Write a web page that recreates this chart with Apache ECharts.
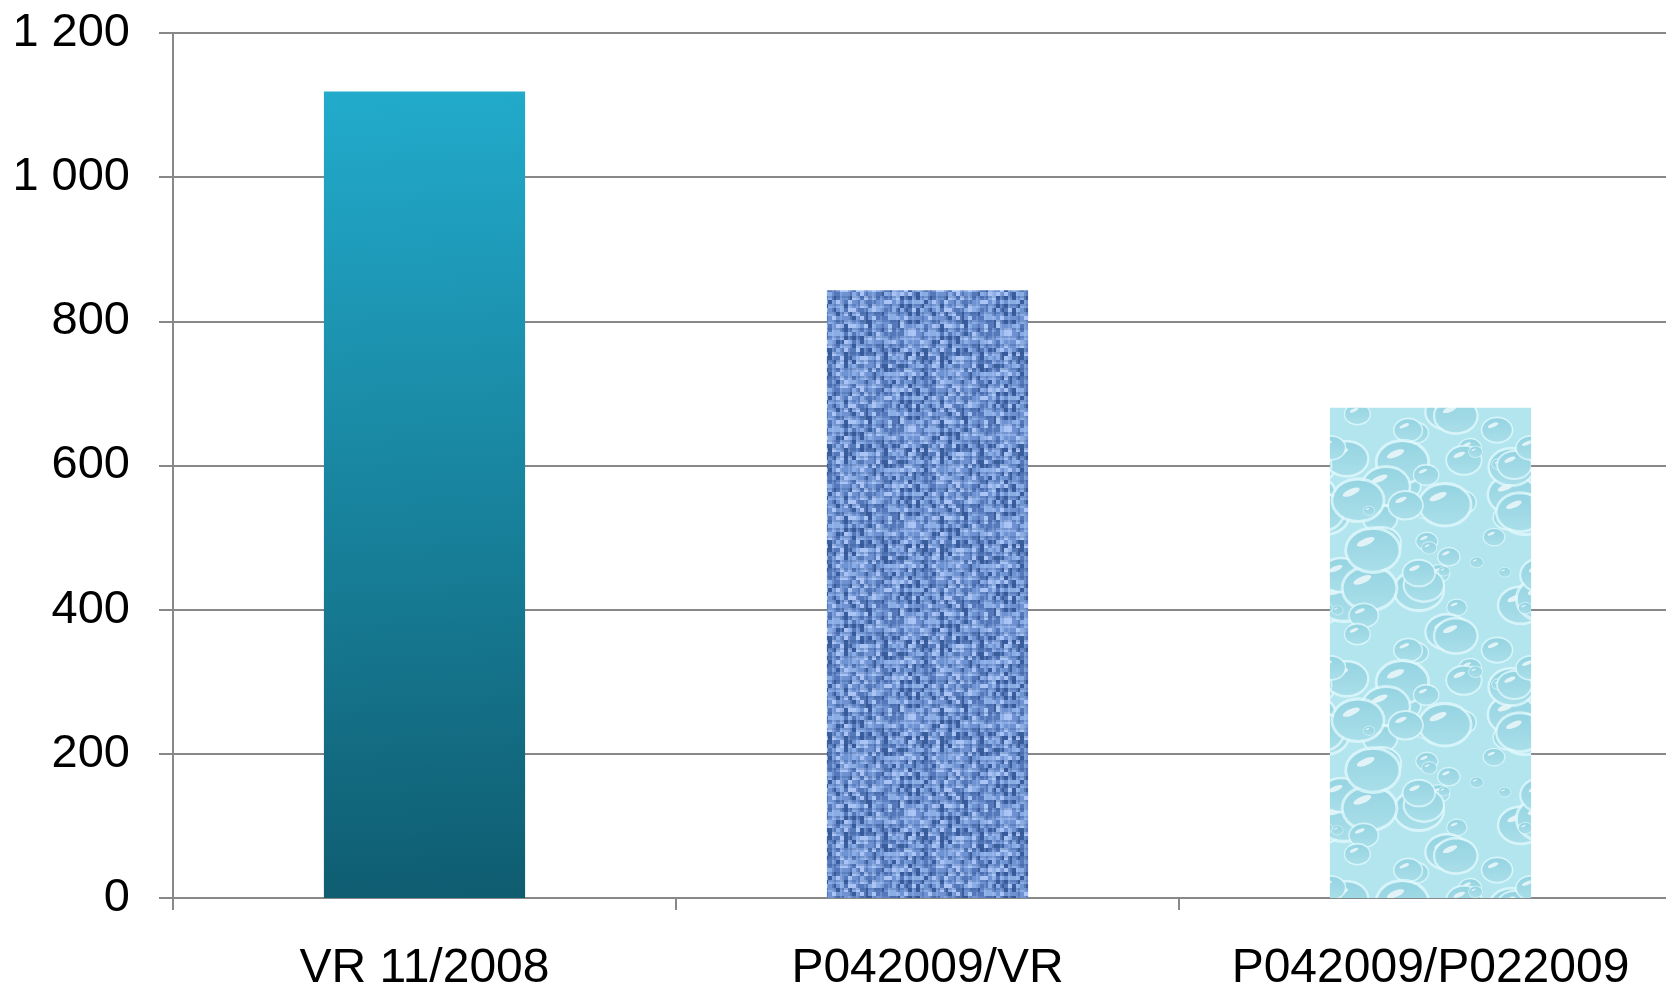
<!DOCTYPE html>
<html>
<head>
<meta charset="utf-8">
<script src="https://cdn.jsdelivr.net/npm/echarts@6/dist/echarts.min.js"></script>
<style>
html,body{margin:0;padding:0;background:#fff;}
#chart{width:1666px;height:990px;}
</style>
</head>
<body>
<div id="chart"></div>
<script>
// ---- data ----
const categories = ['VR 11/2008', 'P042009/VR', 'P042009/P022009'];
const values = [1119, 843, 680];
const yTicks = { min: 0, max: 1200, interval: 200 };

// ---- deterministic hash for textures (style only) ----
function hash(x, y, s) {
  let h = Math.sin(x * 127.1 + y * 311.7 + s * 74.7) * 43758.5453;
  return h - Math.floor(h);
}

// denim / burlap texture
function denimTexture() {
  const c = document.createElement('canvas');
  const W = 96, H = 96;
  c.width = W; c.height = H;
  const g = c.getContext('2d');
  g.fillStyle = '#6a8dcc';
  g.fillRect(0, 0, W, H);
  const cell = 4;
  for (let y = 0; y < H; y += cell) {
    for (let x = 0; x < W; x += cell) {
      const r = hash(x, y, 1);
      let col;
      if (r < 0.16) col = '#3a5d9e';
      else if (r < 0.36) col = '#5478b9';
      else if (r < 0.62) col = '#6f92d2';
      else if (r < 0.86) col = '#8badE6';
      else col = '#a9c4f4';
      g.fillStyle = col;
      g.fillRect(x, y, cell, cell);
    }
  }
  g.globalAlpha = 0.25;
  for (let y = 0; y < H; y += 8) {
    g.fillStyle = '#2c4d8c';
    g.fillRect(0, y, W, 2);
  }
  for (let x = 0; x < W; x += 8) {
    g.fillStyle = '#b8cff7';
    g.fillRect(x, 0, 2, H);
  }
  g.globalAlpha = 1;
  return c;
}

// water droplets texture
function dropTexture() {
  const c = document.createElement('canvas');
  const W = 200, H = 220;
  c.width = W; c.height = H;
  const g = c.getContext('2d');
  g.fillStyle = '#b2e5ee';
  g.fillRect(0, 0, W, H);
  const n = 55;
  for (let i = 0; i < n; i++) {
    const cx = hash(i, 3, 2) * W;
    const cy = hash(i, 7, 5) * H;
    const r = 5 + Math.pow(hash(i, 11, 9), 1.6) * 20;
    for (let dx = -W; dx <= W; dx += W) {
      for (let dy = -H; dy <= H; dy += H) {
        const x = cx + dx, y = cy + dy;
        if (x + r * 1.3 < 0 || x - r * 1.3 > W || y + r < 0 || y - r > H) continue;
        g.beginPath();
        g.ellipse(x, y, r * 1.2, r, 0, 0, Math.PI * 2);
        g.fillStyle = 'rgba(222,247,251,0.8)';
        g.fill();
        const grd = g.createLinearGradient(x, y - r, x, y + r);
        grd.addColorStop(0, '#94d3e1');
        grd.addColorStop(1, '#aadfe9');
        g.beginPath();
        g.ellipse(x, y, r * 1.08, r * 0.86, 0, 0, Math.PI * 2);
        g.fillStyle = grd;
        g.fill();
        g.beginPath();
        g.ellipse(x - r * 0.3, y - r * 0.35, r * 0.4, r * 0.14, -0.4, 0, Math.PI * 2);
        g.fillStyle = 'rgba(255,255,255,0.7)';
        g.fill();
      }
    }
  }
  return c;
}

const chart = echarts.init(document.getElementById('chart'));
const fills = [
  new echarts.graphic.LinearGradient(0, 0, 0.25, 1, [
    { offset: 0, color: '#22abcc' },
    { offset: 1, color: '#0f5d71' }
  ]),
  { image: denimTexture(), repeat: 'repeat' },
  { image: dropTexture(), repeat: 'repeat' }
];

chart.setOption({
  backgroundColor: '#ffffff',
  animation: false,
  grid: { left: 173, right: -16, top: 33, bottom: 92, containLabel: false, outerBoundsMode: 'none' },
  xAxis: {
    type: 'category',
    data: categories,
    boundaryGap: true,
    axisLine: { show: true, lineStyle: { color: '#888888', width: 2 } },
    axisTick: { show: true, length: 12, lineStyle: { color: '#888888', width: 2 } },
    axisLabel: {
      interval: 0,
      hideOverlap: false,
      margin: 47,
      fontFamily: 'Liberation Sans, Arial, sans-serif',
      fontSize: 48,
      color: '#000000'
    },
    splitLine: { show: false }
  },
  yAxis: {
    type: 'value',
    min: yTicks.min,
    max: yTicks.max,
    interval: yTicks.interval,
    axisLine: { show: true, lineStyle: { color: '#888888', width: 2 } },
    axisTick: { show: true, length: 14, lineStyle: { color: '#888888', width: 2 } },
    axisLabel: {
      margin: 43,
      fontFamily: 'Liberation Sans, Arial, sans-serif',
      fontSize: 47,
      color: '#000000',
      formatter: v => String(v).replace(/\B(?=(\d{3})+(?!\d))/g, ' ')
    },
    splitLine: { show: true, lineStyle: { color: '#888888', width: 2 } }
  },
  series: [{
    type: 'bar',
    barWidth: '40%',
    data: values.map((v, i) => ({ value: v, itemStyle: { color: fills[i] } })),
    label: { show: false }
  }]
});
</script>
</body>
</html>
